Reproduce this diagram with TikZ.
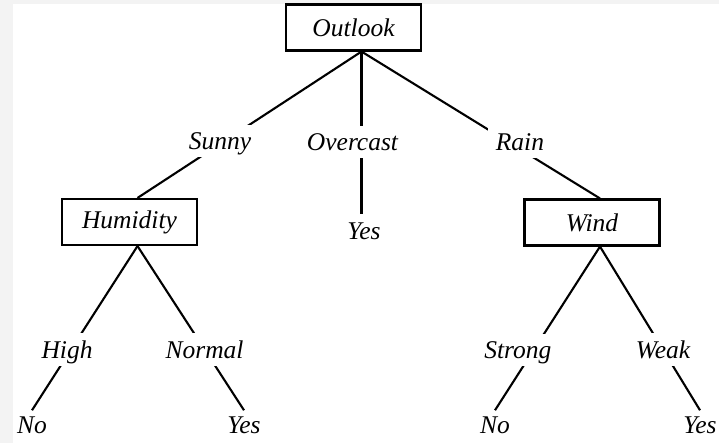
\documentclass[tikz,border=0pt]{standalone}
\usepackage{fontspec}
\setmainfont{Liberation Serif}
\newcommand{\treefont}{\fontsize{25.5}{30}\selectfont\itshape}
\definecolor{bggrey}{HTML}{F3F3F3}
\tikzset{
  every picture/.style={line width=2.1pt},
  attr/.style={draw, minimum width=135pt, minimum height=46pt, inner sep=0pt, font=\treefont},
  branch/.style={fill=white, text depth=0pt, inner sep=7.5pt, font=\treefont},
  leaf/.style={anchor=base, inner sep=5pt, font=\treefont},
}

\begin{document}
\begin{tikzpicture}[x=1pt, y=-1pt]
  % page with its pale border
  \fill[bggrey] (0,0) rectangle (719,443);
  \fill[white] (13,4) rectangle (719,443);
  \useasboundingbox (0,0) rectangle (719,443);
  % attribute tests
  \node[attr] (outlook) at (353.5,27.5) {Outlook};
  \node[attr] (hum) at (129.5,222) {Humidity};
  \node[attr] (wind) at (592,222.5) {Wind};
  \coordinate (root) at ([xshift=8pt]outlook.south);
  \coordinate (humtop) at ([xshift=8pt]hum.north);
  \coordinate (humbot) at ([xshift=8pt]hum.south);
  \coordinate (windtop) at ([xshift=8pt]wind.north);
  \coordinate (windbot) at ([xshift=8pt]wind.south);
  % leaves
  \node[leaf] (yes0) at (364,240) {Yes};
  \node[leaf] (no1) at (32,433) {No};
  \node[leaf] (yes1) at (244,433) {Yes};
  \node[leaf] (no2) at (495,433) {No};
  \node[leaf] (yes2) at (700,433) {Yes};
  % branches with their values
  \draw (root) -- node[branch, pos=.614, xshift=-4pt] (sunny) {Sunny} (humtop);
  \draw[shorten >=3pt] (root) -- node[branch, pos=.545, xshift=-9pt] (overcast) {Overcast} (root |- yes0.north);
  \draw (root) -- node[branch, pos=.614, xshift=12pt] (rain) {Rain} (windtop);
  \draw (humbot) -- node[branch, pos=.63, xshift=-4pt] (high) {High} (no1.north);
  \draw (humbot) -- node[branch, pos=.63] (normal) {Normal} (yes1.north);
  \draw (windbot) -- node[branch, pos=.63, xshift=-16pt] (strong) {Strong} (no2.north);
  \draw (windbot) -- node[branch, pos=.63] (weak) {Weak} (yes2.north);
\end{tikzpicture}
\end{document}
